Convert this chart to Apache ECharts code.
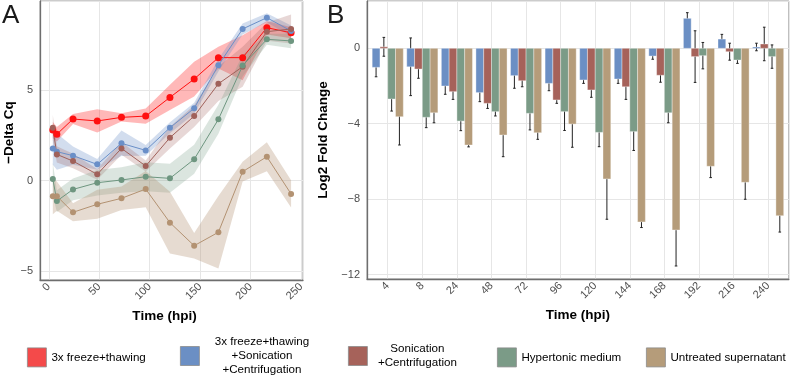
<!DOCTYPE html>
<html lang="en">
<head>
<meta charset="utf-8">
<title>Delta Cq / Log2 fold change</title>
<script src="https://cdn.jsdelivr.net/npm/echarts@6/dist/echarts.min.js"></script>
<style>
    html, body { margin: 0; padding: 0; background: #fff; }
    #main { width: 791px; height: 378px; }
</style>
</head>
<body>
<div id="main"></div>
<script type="text/javascript">
// time points (hpi)
var hours = [4, 8, 24, 48, 72, 96, 120, 144, 168, 192, 216, 240];
var hourLabels = ['4', '8', '24', '48', '72', '96', '120', '144', '168', '192', '216', '240'];

var seriesNames = ['3x freeze+thawing', '3x freeze+thawing +Sonication +Centrifugation',
    'Sonication +Centrifugation', 'Hypertonic medium', 'Untreated supernatant'];
var legendLines = [['3x freeze+thawing'], ['3x freeze+thawing', '+Sonication', '+Centrifugation'],
    ['Sonication', '+Centrifugation'], ['Hypertonic medium'], ['Untreated supernatant']];

// panel A: -Delta Cq (mean and ribbon half width)
var freezeCq = [2.78, 2.55, 3.39, 3.28, 3.48, 3.55, 4.58, 5.59, 6.77, 6.77, 8.42, 8.14];
var freezeCqErr = [0.45, 0.4, 0.28, 0.64, 0.23, 0.42, 0.69, 0.96, 0.6, 1.24, 0.37, 0.3];
var freezeSonCq = [1.77, 1.59, 1.37, 0.89, 2.05, 1.66, 2.91, 3.98, 6.35, 8.35, 8.97, 8.24];
var freezeSonCqErr = [0.9, 1.0, 0.5, 0.3, 0.7, 0.3, 0.3, 0.3, 0.35, 0.3, 0.25, 0.3];
var sonCq = [2.91, 1.44, 1.07, 0.34, 1.77, 0.8, 2.36, 3.55, 5.33, 6.27, 8.2, 8.35];
var sonCqErr = [0.7, 0.45, 0.4, 0.3, 0.35, 0.3, 0.6, 0.6, 0.95, 1.1, 0.5, 0.8];
var hyperCq = [0.08, -1.13, -0.49, -0.12, 0.03, 0.21, 0.12, 1.17, 3.37, 6.33, 7.78, 7.69];
var hyperCqErr = [0.9, 0.6, 0.6, 0.7, 0.7, 0.8, 0.8, 0.8, 0.8, 0.6, 0.3, 0.4];
var untreatedCq = [-0.86, -0.86, -1.75, -1.31, -0.98, -0.47, -2.32, -3.59, -2.85, 0.49, 1.31, -0.74];
var untreatedCqErr = [1.0, 0.8, 0.5, 0.8, 0.65, 1.0, 1.7, 0.7, 2.0, 0.55, 0.8, 0.75];

// panel B: log2 fold change (mean and sd)
var freezeSonLfc = [-1.01, -0.98, -2.0, -2.35, -1.45, -1.86, -1.68, -1.63, -0.41, 1.59, 0.49, 0.07];
var freezeSonSd = [0.5, 1.53, 0.44, 0.48, 0.67, 0.39, 0.18, 0.23, 0.17, 0.3, 0.25, 0.2];
var sonLfc = [0.08, -1.1, -2.3, -2.92, -1.72, -2.74, -2.21, -2.04, -1.43, -0.44, -0.18, 0.23];
var sonSd = [0.5, 0.49, 0.41, 0.27, 0.32, 0.18, 0.39, 0.67, 0.37, 1.37, 0.45, 0.89];
var hyperLfc = [-2.69, -3.66, -3.86, -3.36, -3.45, -3.36, -4.46, -4.42, -3.42, -0.39, -0.62, -0.44];
var hyperSd = [0.64, 0.55, 0.51, 0.23, 0.88, 1.0, 0.76, 1.0, 0.53, 0.7, 0.18, 0.62];
var untreatedLfc = [-3.63, -3.42, -5.13, -4.6, -4.48, -4.02, -6.93, -9.21, -9.64, -6.26, -7.11, -8.88];
var untreatedSd = [1.5, 0.53, 0.1, 1.15, 0.35, 1.23, 2.14, 0.3, 1.91, 0.6, 0.9, 0.87];

var lineColors = ['#ff1010', '#6a8fc8', '#a0615a', '#6e9680', '#b39272'];
var bandColors = ['rgba(255,40,40,0.33)', 'rgba(106,143,200,0.3)', 'rgba(160,97,90,0.25)',
    'rgba(110,150,128,0.25)', 'rgba(176,144,112,0.32)'];
var barColors = ['#6b8fc4', '#a6625a', '#7b9b87', '#b59c7a'];
var legendColors = ['#f44a4a', '#6b8fc4', '#a6625a', '#7b9b87', '#b59c7a'];

var font = 'Liberation Sans, Arial, sans-serif';

function minus(v) {
    return String(v).replace('-', '\u2212');
}

function bandSeries(mean, err, color) {
    return {
        type: 'custom', name: 'band', xAxisIndex: 0, yAxisIndex: 0, z: 1, silent: true,
        data: [[0, 0]],
        renderItem: function (params, api) {
            var up = [], down = [];
            for (var i = 0; i < hours.length; i++) {
                up.push(api.coord([hours[i], mean[i] + err[i]]));
                down.unshift(api.coord([hours[i], mean[i] - err[i]]));
            }
            return {type: 'polygon', shape: {points: up.concat(down)}, style: {fill: color}};
        }
    };
}

function lineSeries(name, mean, color, size) {
    return {
        type: 'line', name: name, xAxisIndex: 0, yAxisIndex: 0, z: 3,
        data: hours.map(function (h, i) { return [h, mean[i]]; }),
        symbol: 'circle', symbolSize: size, showSymbol: true,
        lineStyle: {color: color, width: 1}, itemStyle: {color: color},
        emphasis: {disabled: true}
    };
}

function barSeries(name, vals, sds, color, k) {
    return {
        type: 'custom', name: name, xAxisIndex: 1, yAxisIndex: 1, z: 2,
        data: vals.map(function (v, i) { return [i, v, sds[i]]; }),
        encode: {x: 0, y: 1},
        renderItem: function (params, api) {
            var i = api.value(0), v = api.value(1), sd = api.value(2);
            var w = api.size([1, 0])[0] * 0.9 / 4;
            var base = api.coord([i, 0]);
            var cx = base[0] + (k - 1.5) * w;
            var y1 = api.coord([i, v])[1];
            var eTop = api.coord([i, v + sd])[1];
            var eBot = api.coord([i, v - sd])[1];
            var es = {stroke: '#222', lineWidth: 1};
            return {
                type: 'group', children: [
                    {type: 'line', shape: {x1: cx, y1: eTop, x2: cx, y2: eBot}, style: es},
                    {type: 'line', shape: {x1: cx - 1.3, y1: eTop, x2: cx + 1.3, y2: eTop}, style: es},
                    {type: 'line', shape: {x1: cx - 1.3, y1: eBot, x2: cx + 1.3, y2: eBot}, style: es},
                    {
                        type: 'rect',
                        shape: {x: cx - w / 2, y: Math.min(base[1], y1), width: w, height: Math.abs(y1 - base[1])},
                        style: {fill: color, stroke: 'rgba(255,255,255,0.6)', lineWidth: 0.6}
                    }
                ]
            };
        }
    };
}

var legendLeft = [27, 180, 348, 497, 646];
var legendWidth = [0, 115, 90, 0, 0];
var legends = seriesNames.map(function (n, k) {
    var lines = legendLines[k];
    var h = Math.max(19, lines.length * 14);
    return {
        data: [{name: n, icon: 'rect',
            itemStyle: {color: legendColors[k], borderColor: '#8c8c8c', borderWidth: 0.8}}],
        left: legendLeft[k], top: 357 - h / 2, padding: 0,
        itemWidth: 19, itemHeight: 19, selectedMode: false,
        textStyle: {
            color: '#000', fontSize: 11.6, fontFamily: font,
            rich: {c: {align: 'center', width: legendWidth[k] || undefined, lineHeight: 14,
                fontSize: 11.6, color: '#000', fontFamily: font}}
        },
        formatter: function () {
            if (lines.length === 1) return lines[0];
            return lines.map(function (l) { return '{c|' + l + '}'; }).join('\n');
        }
    };
});

var tickLabel = {fontSize: 11, color: '#4d4d4d', fontFamily: font};
var titleStyle = {fontWeight: 'bold', fontSize: 13.5, color: '#000', fontFamily: font};
var gridLine = {show: true, lineStyle: {color: '#e6e6e6', width: 1}};
var axisLine = {show: true, onZero: false, lineStyle: {color: '#6e6e6e', width: 1.3}};

var myChart = echarts.init(document.getElementById('main'), null, {renderer: 'canvas'});
var option = {
    animation: false,
    backgroundColor: '#fff',
    title: [
        {text: 'A', left: 2, top: 3, padding: 0, textStyle: {fontSize: 26, fontWeight: 'normal', color: '#1a1a1a', fontFamily: font}},
        {text: 'B', left: 327, top: 3, padding: 0, textStyle: {fontSize: 26, fontWeight: 'normal', color: '#1a1a1a', fontFamily: font}}
    ],
    legend: legends,
    grid: [
        {left: 40, top: 1, width: 263, height: 279, show: true, borderColor: '#999', borderWidth: 1},
        {left: 367, top: 1, width: 423, height: 278, show: true, borderColor: '#999', borderWidth: 1}
    ],
    xAxis: [
        {
            gridIndex: 0, type: 'value', min: -8.7, max: 251.8, splitNumber: 5,
            axisLine: axisLine, axisTick: {show: false}, splitLine: gridLine,
            axisLabel: Object.assign({rotate: 45, margin: 5, formatter: function (v) {
                return Math.abs(v % 50) < 1e-6 ? String(v) : '';
            }}, tickLabel),
            name: 'Time (hpi)', nameLocation: 'middle', nameGap: 29,
            nameTextStyle: Object.assign({padding: [0, 14, 0, 0]}, titleStyle)
        },
        {
            gridIndex: 1, type: 'value', min: -0.6, max: 11.6, minInterval: 1, maxInterval: 1,
            axisLine: axisLine, axisTick: {show: false}, splitLine: gridLine,
            axisLabel: Object.assign({rotate: 45, margin: 5, formatter: function (v) {
                var r = Math.round(v);
                return (Math.abs(v - r) < 1e-6 && r >= 0 && r < hourLabels.length) ? hourLabels[r] : '';
            }}, tickLabel),
            name: 'Time (hpi)', nameLocation: 'middle', nameGap: 29, nameTextStyle: titleStyle
        }
    ],
    yAxis: [
        {
            gridIndex: 0, type: 'value', min: -5.48, max: 9.89, splitNumber: 3,
            axisLine: axisLine, axisTick: {show: false}, splitLine: gridLine,
            axisLabel: Object.assign({margin: 7, formatter: function (v) {
                return Math.abs(v % 5) < 1e-6 ? minus(v) : '';
            }}, tickLabel),
            name: '\u2212Delta Cq', nameLocation: 'middle', nameGap: 23,
            nameTextStyle: Object.assign({padding: [0, 0, 0, 16]}, titleStyle)
        },
        {
            gridIndex: 1, type: 'value', min: -12.24, max: 2.51, minInterval: 4, maxInterval: 4,
            axisLine: axisLine, axisTick: {show: false}, splitLine: gridLine,
            axisLabel: Object.assign({margin: 7, formatter: function (v) {
                return Math.abs(v % 4) < 1e-6 ? minus(v) : '';
            }}, tickLabel),
            name: 'Log2 Fold Change', nameLocation: 'middle', nameGap: 31, nameTextStyle: titleStyle
        }
    ],
    series: [
        bandSeries(freezeCq, freezeCqErr, bandColors[0]),
        bandSeries(freezeSonCq, freezeSonCqErr, bandColors[1]),
        bandSeries(sonCq, sonCqErr, bandColors[2]),
        bandSeries(hyperCq, hyperCqErr, bandColors[3]),
        bandSeries(untreatedCq, untreatedCqErr, bandColors[4]),
        lineSeries(seriesNames[0], freezeCq, lineColors[0], 7),
        lineSeries(seriesNames[1], freezeSonCq, lineColors[1], 6),
        lineSeries(seriesNames[2], sonCq, lineColors[2], 6),
        lineSeries(seriesNames[3], hyperCq, lineColors[3], 6),
        lineSeries(seriesNames[4], untreatedCq, lineColors[4], 6),
        barSeries(seriesNames[1], freezeSonLfc, freezeSonSd, barColors[0], 0),
        barSeries(seriesNames[2], sonLfc, sonSd, barColors[1], 1),
        barSeries(seriesNames[3], hyperLfc, hyperSd, barColors[2], 2),
        barSeries(seriesNames[4], untreatedLfc, untreatedSd, barColors[3], 3)
    ]
};
myChart.setOption(option);
</script>
</body>
</html>
